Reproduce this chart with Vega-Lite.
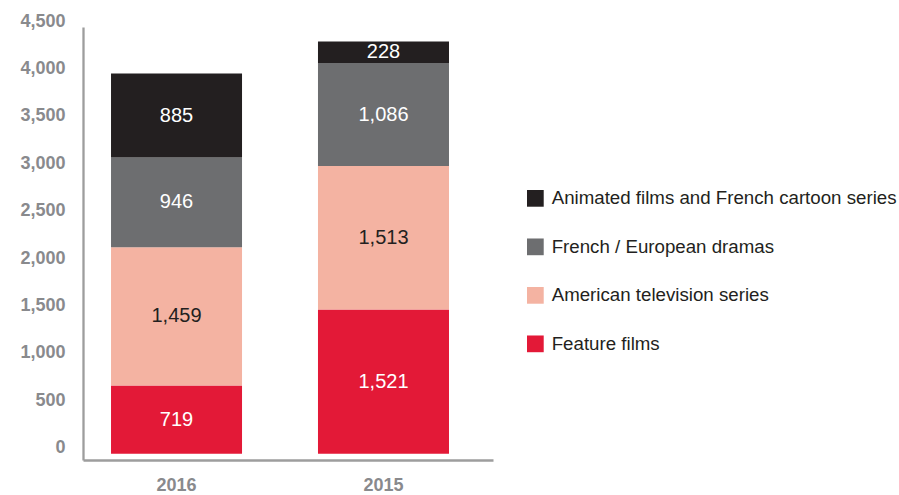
{
  "$schema": "https://vega.github.io/schema/vega-lite/v6.json",
  "autosize": {"type": "none"},
  "width": 410,
  "height": 433,
  "padding": {"left": 83, "top": 27, "right": 406, "bottom": 35},
  "background": "white",
  "config": {"view": {"stroke": null}},
  "data": {
    "values": [
      {"year": "2016", "category": "Feature films", "rank": 1, "value": 719},
      {"year": "2016", "category": "American television series", "rank": 2, "value": 1459},
      {"year": "2016", "category": "French / European dramas", "rank": 3, "value": 946},
      {"year": "2016", "category": "Animated films and French cartoon series", "rank": 4, "value": 885},
      {"year": "2015", "category": "Feature films", "rank": 1, "value": 1521},
      {"year": "2015", "category": "American television series", "rank": 2, "value": 1513},
      {"year": "2015", "category": "French / European dramas", "rank": 3, "value": 1086},
      {"year": "2015", "category": "Animated films and French cartoon series", "rank": 4, "value": 228}
    ]
  },
  "encoding": {
    "x": {
      "field": "year", "type": "nominal", "sort": ["2016", "2015"],
      "scale": {"paddingInner": 0.367, "paddingOuter": 0.174, "align": 0.389},
      "axis": {
        "title": null, "ticks": false, "labelAngle": 0, "labelPadding": 16,
        "labelFont": "Liberation Sans", "labelFontWeight": "bold", "labelFontSize": 18,
        "labelColor": "#898a8d", "domainColor": "#9d9d9d", "domainWidth": 2.3
      }
    },
    "y": {
      "field": "value", "type": "quantitative", "stack": "zero",
      "scale": {"domain": [-66, 4500], "nice": false, "zero": false},
      "axis": {
        "title": null, "ticks": false, "grid": false,
        "values": [0, 500, 1000, 1500, 2000, 2500, 3000, 3500, 4000, 4500],
        "format": ",d", "labelPadding": 18, "labelOffset": -6,
        "labelFont": "Liberation Sans", "labelFontWeight": "bold", "labelFontSize": 18,
        "labelColor": "#898a8d", "domainColor": "#9d9d9d", "domainWidth": 2.3
      }
    },
    "order": {"field": "rank", "type": "quantitative"}
  },
  "layer": [
    {
      "mark": {"type": "bar", "width": {"band": 1}},
      "encoding": {
        "color": {
          "field": "category", "type": "nominal",
          "scale": {
            "domain": ["Animated films and French cartoon series", "French / European dramas", "American television series", "Feature films"],
            "range": ["#231f20", "#6d6e70", "#f4b3a2", "#e31937"]
          },
          "legend": {
            "title": null, "orient": "none", "legendX": 443, "legendY": 162,
            "padding": 0, "symbolType": "square", "symbolSize": 280, "symbolStrokeWidth": 0,
            "labelFont": "Liberation Sans", "labelFontSize": 18.7, "labelColor": "#231f20",
            "labelOffset": 7, "rowPadding": 28.5, "labelLimit": 400
          }
        }
      }
    },
    {
      "mark": {"type": "text", "font": "Liberation Sans", "fontSize": 20, "baseline": "middle", "align": "center"},
      "encoding": {
        "y": {"field": "value", "type": "quantitative", "stack": "zero", "bandPosition": 0.5},
        "text": {"field": "value", "type": "quantitative", "format": ",d"},
        "color": {
          "condition": {"test": "datum.category === 'American television series'", "value": "#231f20"},
          "value": "#ffffff"
        }
      }
    }
  ]
}
